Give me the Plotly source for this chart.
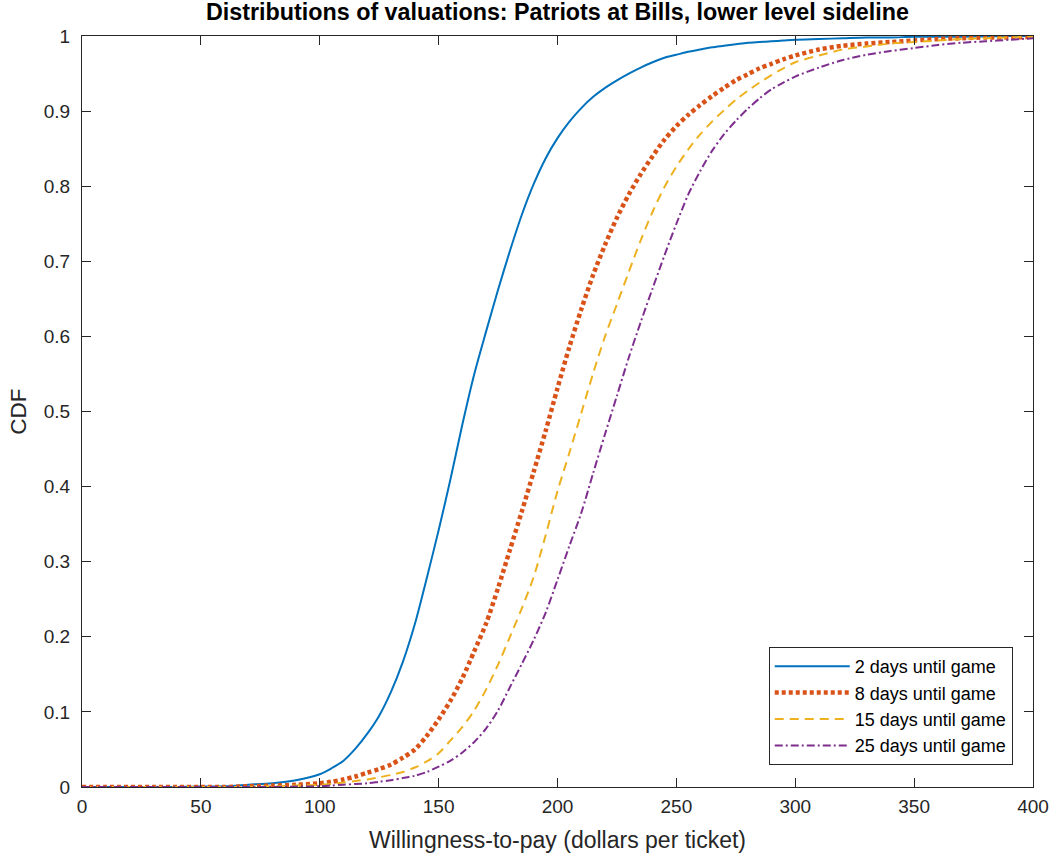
import plotly.graph_objects as go

# Willingness-to-pay grid (dollars per ticket)
wtp = [0, 10, 20, 30, 40, 50, 60, 70, 80, 90, 100,
       105, 110, 115, 120, 125, 130, 135, 140, 145, 150,
       155, 160, 165, 170, 175, 180, 185, 190, 195, 200,
       205, 210, 215, 220, 225, 230, 235, 240, 245, 250,
       255, 260, 265, 270, 275, 280, 285, 290, 295, 300,
       310, 320, 330, 340, 350, 360, 370, 380, 390, 400]

cdf_2_days = [0, 0, 0, 0, 0, 0.0005, 0.001, 0.003, 0.005, 0.009, 0.017,
              0.025, 0.035, 0.051, 0.071, 0.095, 0.127, 0.167, 0.217, 0.278, 0.342,
              0.410, 0.483, 0.550, 0.607, 0.662, 0.714, 0.762, 0.803, 0.837, 0.864,
              0.886, 0.904, 0.919, 0.931, 0.941, 0.950, 0.958, 0.965, 0.971, 0.975,
              0.979, 0.982, 0.985, 0.987, 0.989, 0.991, 0.992, 0.993, 0.994, 0.995,
              0.996, 0.997, 0.998, 0.998, 0.999, 0.999, 0.999, 0.9995, 1.0, 1.0]

cdf_8_days = [0, 0, 0, 0, 0, 0, 0, 0.001, 0.002, 0.003, 0.005,
              0.007, 0.010, 0.014, 0.019, 0.024, 0.030, 0.039, 0.050, 0.068, 0.090,
              0.115, 0.145, 0.181, 0.218, 0.265, 0.316, 0.367, 0.420, 0.474, 0.531,
              0.586, 0.636, 0.682, 0.722, 0.758, 0.789, 0.816, 0.840, 0.862, 0.880,
              0.895, 0.908, 0.920, 0.931, 0.941, 0.949, 0.957, 0.963, 0.969, 0.974,
              0.982, 0.987, 0.990, 0.992, 0.994, 0.996, 0.997, 0.998, 0.998, 0.999]

cdf_15_days = [0, 0, 0, 0, 0, 0, 0, 0, 0.001, 0.002, 0.003,
               0.004, 0.006, 0.008, 0.010, 0.013, 0.016, 0.020, 0.026, 0.034, 0.045,
               0.062, 0.080, 0.102, 0.130, 0.163, 0.200, 0.238, 0.280, 0.335, 0.394,
               0.445, 0.498, 0.551, 0.600, 0.643, 0.686, 0.728, 0.766, 0.799, 0.826,
               0.849, 0.869, 0.886, 0.901, 0.915, 0.927, 0.938, 0.948, 0.957, 0.965,
               0.974, 0.982, 0.986, 0.990, 0.992, 0.994, 0.996, 0.997, 0.998, 0.999]

cdf_25_days = [0, 0, 0, 0, 0, 0, 0, 0, 0, 0.0005, 0.001,
               0.002, 0.003, 0.004, 0.005, 0.007, 0.009, 0.012, 0.015, 0.020, 0.027,
               0.035, 0.046, 0.060, 0.078, 0.102, 0.133, 0.164, 0.196, 0.232, 0.276,
               0.321, 0.365, 0.418, 0.470, 0.521, 0.572, 0.619, 0.664, 0.708, 0.750,
               0.789, 0.820, 0.847, 0.869, 0.887, 0.903, 0.917, 0.929, 0.938, 0.946,
               0.958, 0.968, 0.975, 0.980, 0.984, 0.988, 0.991, 0.993, 0.995, 0.997]

series_names = ["2 days until game", "8 days until game",
                "15 days until game", "25 days until game"]
series_values = [cdf_2_days, cdf_8_days, cdf_15_days, cdf_25_days]

x_ticks = [0, 50, 100, 150, 200, 250, 300, 350, 400]
y_ticks = [0, 0.1, 0.2, 0.3, 0.4, 0.5, 0.6, 0.7, 0.8, 0.9, 1]
y_tick_labels = ["0", "0.1", "0.2", "0.3", "0.4", "0.5", "0.6", "0.7", "0.8", "0.9", "1"]

styles = [
    dict(color="#0072BD", width=2, dash="solid"),
    dict(color="#D95319", width=4.5, dash="4px,3px"),
    dict(color="#EDB120", width=2, dash="9px,6px"),
    dict(color="#7E2F8E", width=2, dash="8px,3px,2px,3px"),
]

FONT = "Arial, 'Liberation Sans', Helvetica, sans-serif"
AX = "#262626"

fig = go.Figure()
for name, vals, st in zip(series_names, series_values, styles):
    fig.add_trace(go.Scatter(
        x=wtp, y=vals, mode="lines", name=name,
        line=dict(color=st["color"], width=st["width"], dash=st["dash"],
                  shape="spline", smoothing=0.8),
    ))

axis_common = dict(
    showgrid=False, zeroline=False, showline=True, linecolor=AX, linewidth=1,
    mirror="ticks", ticks="inside", ticklen=9, tickwidth=1, tickcolor=AX,
    tickfont=dict(family=FONT, size=19, color=AX),
)

fig.update_layout(
    width=1057, height=857,
    margin=dict(l=82, r=24, t=36, b=70, autoexpand=False),
    paper_bgcolor="white", plot_bgcolor="white",
    title=dict(text="<b>Distributions of valuations: Patriots at Bills, lower level sideline</b>",
               x=0.5, xanchor="center", xref="paper", y=0.986, yanchor="middle",
               font=dict(family=FONT, size=23.3, color="black")),
    xaxis=dict(range=[0, 400], tickvals=x_ticks, ticktext=[str(v) for v in x_ticks],
               title=dict(text="Willingness-to-pay (dollars per ticket)",
                          font=dict(family=FONT, size=23, color=AX), standoff=16),
               ticklabelstandoff=2, **axis_common),
    yaxis=dict(range=[0, 1], tickvals=y_ticks, ticktext=y_tick_labels,
               title=dict(text="CDF", font=dict(family=FONT, size=22.5, color=AX), standoff=10),
               ticklabelstandoff=7, **axis_common),
    legend=dict(x=0.9787, y=0.0293, xanchor="right", yanchor="bottom",
                bgcolor="white", bordercolor=AX, borderwidth=1,
                font=dict(family=FONT, size=18, color="black"),
                itemwidth=75, tracegroupgap=0),
    showlegend=True,
)

fig.write_html("out.html")
